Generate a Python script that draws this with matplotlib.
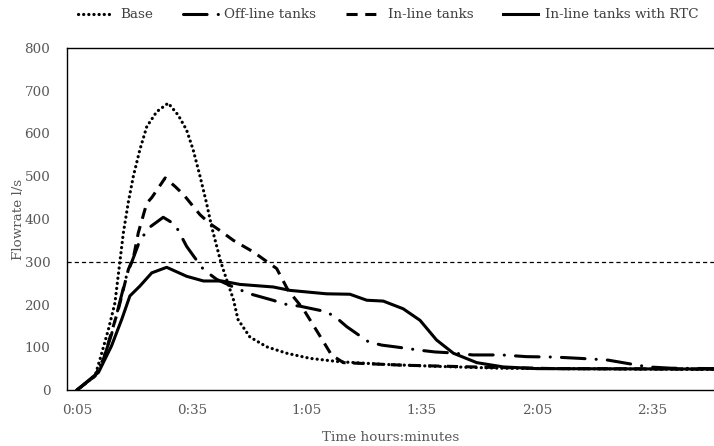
import matplotlib
matplotlib.use("Agg")
import matplotlib.pyplot as plt

plt.rcParams["font.family"] = ["DejaVu Serif"]
plt.rcParams["lines.scale_dashes"] = False

# time in minutes, flow rate in l/s
base_t = [5, 9.7, 11, 13.2, 14.9, 16.2, 17.1, 18.4, 19.7, 21.4, 23.2, 25.8,
          28.8, 31.4, 33.6, 35.3, 37.1, 38.8, 40.1, 42.5, 44, 45.8, 47, 50.1,
          54.5, 59.7, 65.8, 73.6, 85, 100, 115, 130, 150, 171.2]
base_q = [0, 33, 72, 142, 204, 301, 368, 440, 500, 562, 616, 651,
          671, 643, 608, 562, 500, 437, 383, 300, 259, 212, 165, 124,
          101, 86, 74, 66, 60, 55, 51, 50, 49, 48]

offline_t = [5, 9.7, 12, 14, 16, 18, 19.7, 21.4, 24, 27.5, 30.6, 33.6, 35.6,
             38, 41.4, 46, 50.1, 56.1, 59.7, 63.2, 70.1, 72.8, 75.4, 81, 84.5,
             88, 94.5, 98.4, 102.3, 108.3, 115.8, 122.3, 129.7, 136.2, 140.1,
             143.5, 150, 154, 160, 171.2]
offline_q = [0, 33, 75, 130, 200, 270, 309, 350, 381, 404, 387, 336, 311,
             282, 259, 240, 225, 210, 200, 196, 183, 168, 148, 113, 105,
             101, 93, 89, 87, 82, 82, 78, 77, 74, 72,
             70, 60, 54, 51, 50]

inline_t = [5, 9.7, 12, 14, 15.8, 18.4, 19.7, 21, 23.2, 24.5, 28, 30.6, 32.8,
            34.9, 37.1, 39.7, 42.3, 45.8, 51, 57.1, 60.1, 64, 68, 71.4, 74.5,
            90, 113, 130, 171.2]
inline_q = [0, 33, 75, 135, 189, 282, 309, 368, 437, 450, 496, 476, 457,
            434, 410, 389, 373, 350, 323, 284, 233, 190, 132, 82, 64,
            58, 53, 50, 49]

rtc_t = [5, 9.7, 10.6, 14, 16.7, 18.8, 21.4, 24.5, 28.4, 33.6, 38, 42.8,
         47.5, 56.2, 60.6, 70.1, 76.2, 80.6, 84.9, 90.1, 94.5, 98.8, 103.2,
         109.3, 116.2, 125, 171.2]
rtc_q = [0, 35, 41, 103, 166, 220, 243, 274, 287, 266, 255, 255,
         247, 241, 233, 225, 224, 210, 208, 190, 163, 117, 86,
         64, 54, 50, 49]

threshold = 300

tick_minutes = [5, 35, 65, 95, 125, 155]
tick_labels = ["0:05", "0:35", "1:05", "1:35", "2:05", "2:35"]

grey = "#595959"

fig = plt.figure(figsize=(7.14, 4.46), dpi=100)
ax = fig.add_axes([67 / 714, 1 - 390 / 446, 1 - 67 / 714, (390 - 48) / 446])

ax.axhline(threshold, color="black", lw=0.9, dashes=(3, 2.2))

ax.plot(base_t, base_q, color="black", lw=2.3, dashes=(0.1, 3.6),
        dash_capstyle="round", label="Base")
ax.plot(offline_t, offline_q, color="black", lw=2.2, dashes=(17, 8, 0.1, 8),
        dash_capstyle="round", label="Off-line tanks")
ax.plot(inline_t, inline_q, color="black", lw=2.2, dashes=(8, 5.5),
        label="In-line tanks")
ax.plot(rtc_t, rtc_q, color="black", lw=2.2, label="In-line tanks with RTC")

ax.set_xlim(2.39, 171.2)
ax.set_ylim(0, 800)
ax.set_yticks(range(0, 801, 100))
ax.set_xticks(tick_minutes)
ax.set_xticklabels(tick_labels)

ax.tick_params(axis="both", length=0, labelsize=9.7, labelcolor=grey)
ax.tick_params(axis="y", pad=12)
ax.tick_params(axis="x", pad=10)

for side in ["top", "left", "bottom"]:
    ax.spines[side].set_linewidth(1.0)
    ax.spines[side].set_color("black")
ax.spines["right"].set_visible(False)

ax.set_xlabel("Time hours:minutes", fontsize=9.7, color=grey, labelpad=10)
ax.set_ylabel("Flowrate l/s", fontsize=9.7, color=grey)
ax.yaxis.set_label_coords(-42 / 647, 0.5)

fig.legend(loc="center", bbox_to_anchor=(0.544, 1 - 15 / 446), ncol=4,
           frameon=False, fontsize=9.7, handlelength=2.6, handletextpad=0.5,
           columnspacing=2.2, labelcolor="#404040")

fig.savefig("out.png", dpi=100)
